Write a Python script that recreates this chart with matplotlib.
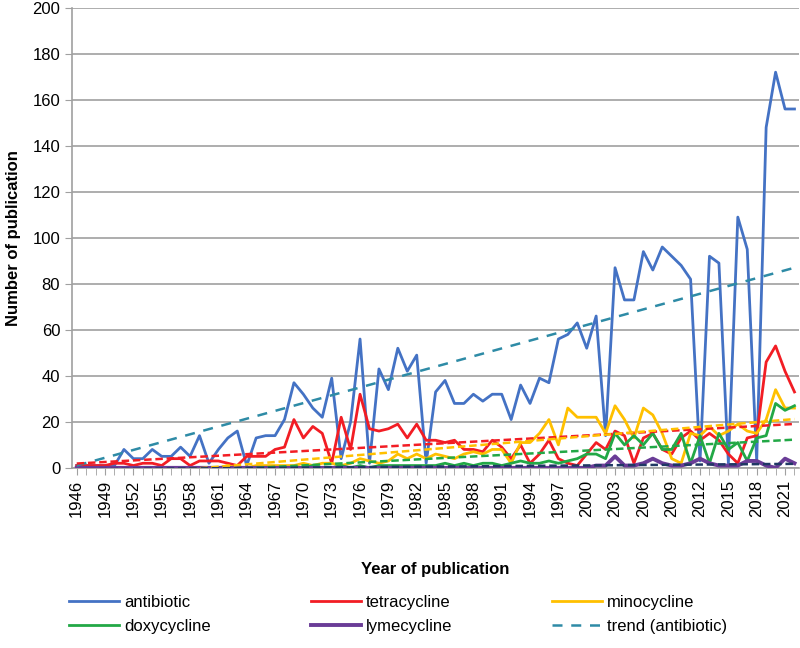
import matplotlib
matplotlib.use("Agg")
import matplotlib.pyplot as plt
from matplotlib.lines import Line2D
from matplotlib.ticker import MultipleLocator
import numpy as np

plt.rcParams['font.family'] = ['Liberation Sans', 'DejaVu Sans']

years = np.arange(1946, 2023)

antibiotic = [1, 1, 1, 1, 1, 8, 4, 4, 8, 5,
              5, 9, 5, 14, 2, 8, 13, 16, 1, 13,
              14, 14, 21, 37, 32, 26, 22, 39, 4, 20,
              56, 2, 43, 34, 52, 42, 49, 2, 33, 38,
              28, 28, 32, 29, 32, 32, 21, 36, 28, 39,
              37, 56, 58, 63, 52, 66, 14, 87, 73, 73,
              94, 86, 96, 92, 88, 82, 3, 92, 89, 2,
              109, 95, 3, 148, 172, 156, 156]
tetracycline = [1, 1, 1, 1, 2, 2, 1, 2, 2, 1,
                4, 4, 1, 3, 3, 3, 2, 1, 5, 5,
                5, 8, 9, 21, 13, 18, 15, 2, 22, 8,
                32, 17, 16, 17, 19, 13, 19, 12, 12, 11,
                12, 8, 8, 7, 12, 9, 4, 10, 2, 6,
                12, 4, 2, 1, 6, 11, 8, 16, 14, 2,
                13, 15, 8, 6, 13, 16, 12, 15, 12, 6,
                2, 13, 14, 46, 53, 42, 33]
minocycline = [0, 0, 0, 0, 0, 0, 0, 0, 0, 0,
               0, 0, 0, 0, 0, 0, 1, 0, 0, 1,
               1, 1, 1, 1, 2, 1, 2, 2, 1, 2,
               4, 3, 2, 3, 6, 4, 6, 4, 6, 5,
               4, 6, 7, 6, 8, 8, 2, 11, 11, 15,
               21, 10, 26, 22, 22, 22, 15, 27, 21, 13,
               26, 23, 15, 4, 2, 15, 14, 18, 14, 16,
               19, 16, 15, 21, 34, 26, 26]
doxycycline = [0, 0, 0, 0, 0, 0, 0, 0, 0, 0,
               0, 0, 0, 0, 0, 0, 0, 0, 0, 0,
               0, 0, 0, 0, 0, 1, 0, 0, 1, 0,
               1, 0, 1, 1, 1, 1, 1, 1, 1, 2,
               1, 2, 1, 2, 2, 1, 2, 3, 2, 2,
               3, 2, 3, 4, 6, 6, 4, 15, 10, 14,
               10, 15, 8, 8, 15, 2, 14, 2, 15, 8,
               11, 3, 13, 14, 28, 25, 27]
lymecycline = [0, 0, 0, 0, 0, 0, 0, 0, 0, 0,
               0, 0, 0, 0, 0, 0, 0, 0, 0, 0,
               0, 0, 0, 0, 0, 0, 0, 0, 0, 0,
               0, 0, 0, 0, 0, 0, 0, 0, 0, 0,
               0, 0, 0, 0, 0, 0, 0, 0, 0, 0,
               0, 0, 0, 0, 0, 1, 1, 5, 1, 1,
               2, 4, 2, 1, 1, 2, 4, 2, 1, 1,
               1, 3, 3, 1, 0, 4, 2]

# trend (antibiotic): value at first and last year
trend_years = [1946, 2022]
trend_antibiotic = [1, 87]

c_anti = '#4472C4'
c_tetra = '#F21D24'
c_mino = '#FFC000'
c_doxy = '#22A846'
c_lyme = '#6A3C97'
c_trend = '#2E8BA6'

fig = plt.figure(figsize=(8, 6.48), dpi=100)
ax = fig.add_axes([0.09, 0.278, 0.909, 0.71])

def linfit(vals):
    p = np.polyfit(years, vals, 1)
    return np.polyval(p, years)

lw = 2.0
ax.plot(years, antibiotic, color=c_anti, lw=lw, zorder=3)
ax.plot(years, tetracycline, color=c_tetra, lw=lw, zorder=3)
ax.plot(years, minocycline, color=c_mino, lw=lw, zorder=3)
ax.plot(years, doxycycline, color=c_doxy, lw=lw, zorder=3)
ax.plot(years, lymecycline, color=c_lyme, lw=lw + 0.8, zorder=3)

short = (0, (3, 1.5))
ax.plot(trend_years, trend_antibiotic, color=c_trend, lw=1.8, ls=(0, (4, 3.5)), zorder=4)
ax.plot(years, linfit(tetracycline), color=c_tetra, lw=1.8, ls=short, zorder=4)
ax.plot(years, linfit(minocycline), color=c_mino, lw=1.8, ls=short, zorder=4)
ax.plot(years, linfit(doxycycline), color=c_doxy, lw=1.8, ls=short, zorder=4)
ax.plot(years, linfit(lymecycline), color='#1F3864', lw=1.8, ls=short, zorder=4)

ax.set_xlim(1945.5, 2022.5)
ax.set_ylim(0, 200)
ax.set_yticks(range(0, 201, 20))
ax.set_xticks(years[::3])
ax.set_xticklabels([str(y) for y in years[::3]], rotation=90)
ax.xaxis.set_minor_locator(MultipleLocator(1))
ax.tick_params(axis='both', which='major', labelsize=12, color='#A0A0A0', length=5)
ax.tick_params(axis='x', which='minor', color='#A0A0A0', length=5)
ax.grid(axis='y', color='#A0A0A0', lw=1.2)
ax.set_axisbelow(True)
for s in ['top', 'right']:
    ax.spines[s].set_visible(False)
for s in ['left', 'bottom']:
    ax.spines[s].set_color('#A0A0A0')
    ax.spines[s].set_linewidth(1.2)

ax.set_xlabel('Year of publication', fontsize=12, fontweight='bold')
ax.set_ylabel('Number of publication', fontsize=12, fontweight='bold')
ax.xaxis.set_label_coords(0.5, -0.205)
ax.yaxis.set_label_coords(-0.07, 0.5)

handles = [
    Line2D([], [], color=c_anti, lw=lw),
    Line2D([], [], color=c_doxy, lw=lw),
    Line2D([], [], color=c_tetra, lw=lw),
    Line2D([], [], color=c_lyme, lw=lw + 0.8),
    Line2D([], [], color=c_mino, lw=lw),
    Line2D([], [], color=c_trend, lw=1.8, ls=(0, (4, 3.5))),
]
labels = ['antibiotic', 'doxycycline', 'tetracycline', 'lymecycline',
          'minocycline', 'trend (antibiotic)']
fig.legend(handles, labels, ncol=3, loc='upper left', bbox_to_anchor=(0.072, 0.1),
           frameon=False, fontsize=12, handlelength=3.0, handletextpad=0.3,
           columnspacing=6.0, labelspacing=0.55, borderpad=0.2)

fig.savefig('out.png', dpi=100)
